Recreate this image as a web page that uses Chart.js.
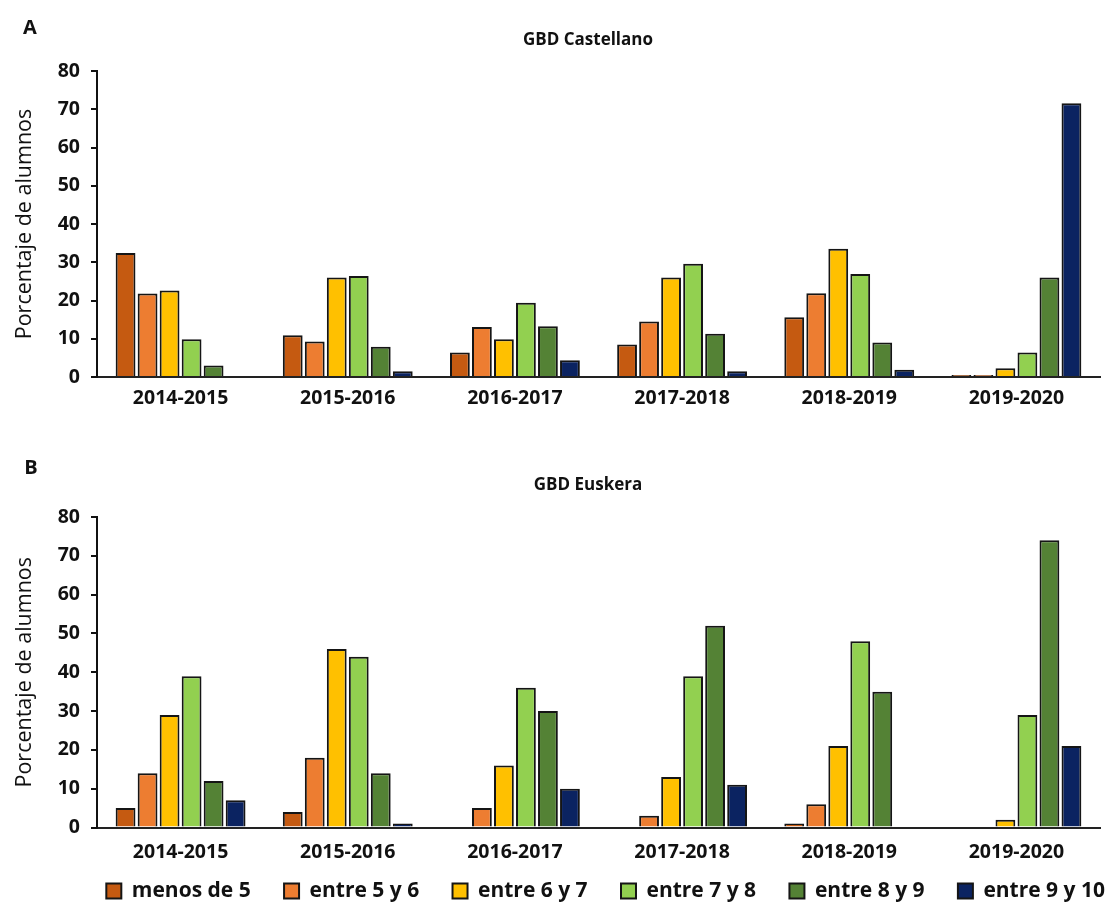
<!DOCTYPE html>
<html>
<head>
<meta charset="utf-8">
<script src="https://cdn.jsdelivr.net/npm/chart.js@4.4.1/dist/chart.umd.min.js"></script>
<style>
html,body{margin:0;padding:0;background:#fff;}
body{width:1108px;height:918px;position:relative;overflow:hidden;font-family:"Open Sans",sans-serif;}
.wrap{position:absolute;left:0;width:1108px;}
#w1{top:0;height:430px;}
#w2{top:430px;height:488px;}
.lbl{position:absolute;font-weight:700;color:#111;white-space:nowrap;transform:translate(-50%,-50%);line-height:1;}
</style>
</head>
<body>
<div class="wrap" id="w1"><canvas id="c1"></canvas></div>
<div class="wrap" id="w2"><canvas id="c2"></canvas></div>
<div class="lbl" style="left:30px;top:27px;font-size:20px">A</div>
<div class="lbl" style="left:588px;top:38px;font-size:17px">GBD Castellano</div>
<div class="lbl" style="left:31px;top:467px;font-size:20px">B</div>
<div class="lbl" style="left:588px;top:483px;font-size:17px">GBD Euskera</div>
<script>
// ---- data ----
const categories = ['2014-2015','2015-2016','2016-2017','2017-2018','2018-2019','2019-2020'];
const seriesNames = ['menos de 5','entre 5 y 6','entre 6 y 7','entre 7 y 8','entre 8 y 9','entre 9 y 10'];
const seriesColors = ['#C55A11','#ED7D31','#FFC000','#92D050','#548235','#0B2361'];
const yAxisTitle = 'Porcentaje de alumnos';
const yMin = 0, yMax = 80, yStep = 10;

// GBD Castellano (panel A)
const casMenos5 = [32.4, 10.9, 6.4, 8.5, 15.6, 0.5];
const cas5a6    = [21.8, 9.3, 13.1, 14.5, 21.9, 0.5];
const cas6a7    = [22.6, 26.0, 9.9, 26.0, 33.5, 2.3];
const cas7a8    = [9.9, 26.4, 19.4, 29.6, 26.9, 6.4];
const cas8a9    = [3.0, 7.9, 13.3, 11.3, 9.0, 26.0];
const cas9a10   = [0, 1.5, 4.4, 1.5, 1.9, 71.6];

// GBD Euskera (panel B)
const eusMenos5 = [5, 4, 0, 0, 1, 0];
const eus5a6    = [14, 18, 5, 3, 6, 0];
const eus6a7    = [29, 46, 16, 13, 21, 2];
const eus7a8    = [39, 44, 36, 39, 48, 29];
const eus8a9    = [12, 14, 30, 52, 35, 74];
const eus9a10   = [7, 1, 10, 11, 0, 21];

const casSeries = [casMenos5, cas5a6, cas6a7, cas7a8, cas8a9, cas9a10];
const eusSeries = [eusMenos5, eus5a6, eus6a7, eus7a8, eus8a9, eus9a10];

// ---- chart building ----
const FONT = '"Open Sans", sans-serif';
Chart.defaults.font.family = FONT;
Chart.defaults.color = '#111';

function buildDatasets(series){
  return series.map((vals, i) => ({
    label: seriesNames[i],
    data: vals,
    backgroundColor: seriesColors[i],
    borderColor: '#151515',
    borderWidth: 2,
    borderSkipped: 'start',
    categoryPercentage: 0.79,
    barPercentage: 0.9
  }));
}

const defaultGen = Chart.defaults.plugins.legend.labels.generateLabels;

// nudges the legend box after layout (keeps chart area untouched)
const legendShift = {
  id: 'legendShift',
  afterLayout(chart, args, o) {
    const lg = chart.legend;
    if (!lg || !o || (!o.dx && !o.dy)) return;
    lg.left += o.dx || 0; lg.right += o.dx || 0;
    lg.top += o.dy || 0; lg.bottom += o.dy || 0;
  }
};

function makeChart(id, series, opts){
  return new Chart(document.getElementById(id), {
    type: 'bar',
    data: { labels: categories, datasets: buildDatasets(series) },
    plugins: [legendShift],
    options: {
      responsive: true,
      maintainAspectRatio: false,
      animation: false,
      layout: { padding: { top: opts.padTop, right: 8, left: 0, bottom: opts.padBottom } },
      plugins: {
        legendShift: { dx: 22, dy: 2 },
        legend: {
          display: opts.legend,
          position: 'bottom',
          align: 'end',
          labels: {
            boxWidth: 15, boxHeight: 15, padding: 17,
            color: '#111',
            font: { size: 21, weight: 'bold', family: FONT },
            generateLabels: chart => {
              const items = defaultGen(chart);
              items.forEach((it, i) => { if (i < items.length - 1) it.text = it.text + '\u00a0\u00a0\u00a0'; });
              return items;
            }
          }
        },
        tooltip: { enabled: false },
        title: { display: false }
      },
      scales: {
        x: {
          grid: { display: false },
          border: { display: true, color: '#222', width: 2 },
          ticks: { color: '#111', padding: opts.xPad, font: { size: 19.5, weight: 'bold', family: FONT } },
          afterFit: s => { s.height = opts.xHeight; }
        },
        y: {
          min: yMin, max: yMax,
          ticks: { stepSize: yStep, color: '#111', padding: 11, font: { size: 19.5, weight: 'bold', family: FONT } },
          grid: { display: true, drawOnChartArea: false, drawTicks: true, tickLength: 6, color: '#111', lineWidth: 2 },
          border: { display: true, color: '#111', width: 2 },
          title: { display: true, text: yAxisTitle, color: '#111', padding: { top: 12, bottom: 0 }, font: { size: 21.5, weight: 'normal', family: FONT } },
          afterFit: s => { s.width = 97; }
        }
      }
    }
  });
}

makeChart('c1', casSeries, { legend: false, padTop: 71, padBottom: 0, xHeight: 53, xPad: 2 });
makeChart('c2', eusSeries, { legend: true, padTop: 87, padBottom: 8.5, xHeight: 34, xPad: 5.5 });
</script>
</body>
</html>
